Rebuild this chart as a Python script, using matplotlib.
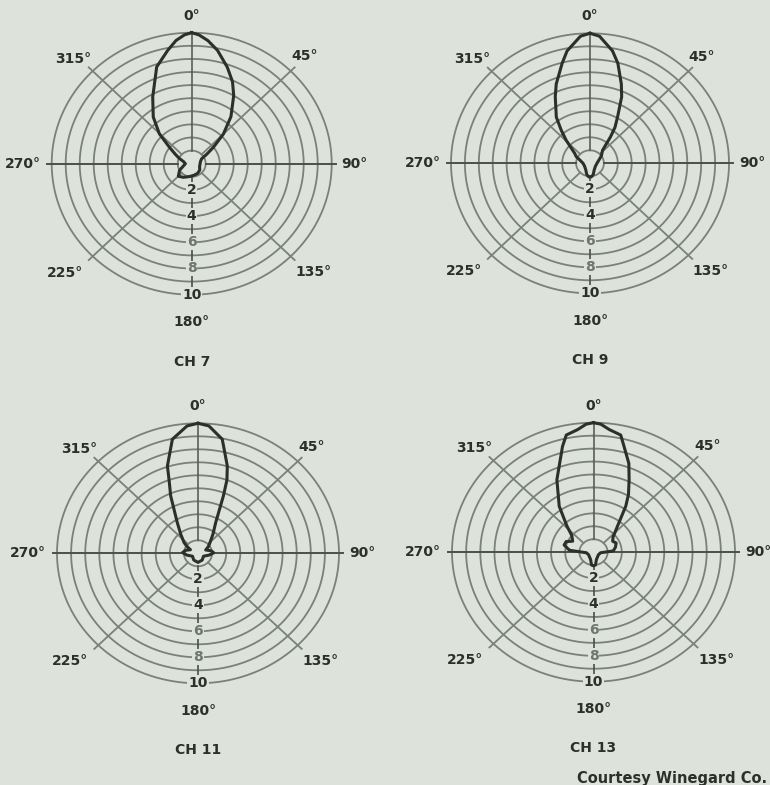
import numpy as np
import matplotlib.pyplot as plt

BG = '#dde2da'
GRID = '#7a8178'
INK = '#2b302b'

W, H = 770, 785
R_LIM = 10.6

channels = ['CH 7', 'CH 9', 'CH 11', 'CH 13']

# pattern traces: bearing in degrees (clockwise from 0°) and relative response
ch7_deg = [0, 3, 7, 12, 19, 25, 30, 38, 45, 51, 56, 62, 75, 90, 110, 130, 150, 170, 190,
           210, 225, 240, 255, 270, 285, 295, 302, 308.4, 314.7, 322.4, 331.3, 341.3,
           348.8, 353.2, 357, 360]
ch7_r = [10, 9.85, 9.47, 8.85, 7.8, 6.9, 6.0, 4.55, 3.2, 2.0, 1.3, 0.8, 0.65, 0.6, 0.6,
         0.75, 0.85, 0.9, 1.0, 1.2, 1.35, 1.0, 0.6, 0.45, 0.6, 1.0, 1.4, 2.04, 3.25, 4.5,
         5.8, 7.8, 8.82, 9.47, 9.85, 10]

ch9_deg = [0, 4, 10.6, 14.6, 20.3, 24, 29, 33, 36, 42, 55, 65, 90, 120, 150, 165, 175,
           185, 195, 210, 240, 270, 290, 297, 305, 316, 321, 325.7, 334, 338.3, 345.4,
           349.2, 356, 360]
ch9_r = [10, 9.8, 8.8, 7.95, 6.5, 5.6, 4.1, 3.3, 2.5, 1.35, 1.0, 0.75, 0.5, 0.45, 0.6,
         0.9, 1.05, 1.05, 0.9, 0.6, 0.45, 0.5, 0.8, 1.1, 1.35, 2.47, 3.3, 4.3, 5.7, 6.57,
         7.95, 8.8, 9.8, 10]

ch11_deg = [0, 4.5, 11.1, 17.2, 20, 22.2, 28, 36, 46, 55, 65, 78, 88, 100, 120, 150, 180,
            210, 240, 260, 273, 285, 297, 305, 310, 320, 328.1, 336.3, 340, 342.1, 348.3,
            355.5, 360]
ch11_r = [10, 9.83, 8.94, 7.03, 6.0, 4.76, 2.67, 1.8, 1.18, 0.9, 0.6, 0.95, 1.12, 0.8,
          0.45, 0.6, 0.7, 0.6, 0.45, 0.8, 1.1, 0.9, 0.6, 1.0, 1.29, 1.9, 2.78, 4.82, 6.0,
          7.06, 8.96, 9.83, 10]

ch13_deg = [0, 3, 6.8, 12, 14.8, 20, 24.2, 29, 32.7, 40.2, 50, 58, 66, 76, 86, 95, 120,
            160, 172, 180, 188, 200, 240, 265, 275, 285, 293, 300, 310, 317, 325.7, 335.2,
            345, 348, 353.2, 357, 360]
ch13_r = [10, 9.9, 9.53, 9.25, 8.45, 7.3, 6.14, 5.1, 4.22, 2.62, 1.8, 1.6, 1.75, 1.6, 1.4,
          0.5, 0.4, 0.6, 1.0, 1.05, 1.0, 0.6, 0.4, 0.5, 1.7, 2.15, 2.1, 1.7, 2.0, 2.75,
          4.3, 6.17, 8.46, 9.25, 9.53, 9.9, 10]

patterns = [(ch7_deg, ch7_r), (ch9_deg, ch9_r), (ch11_deg, ch11_r), (ch13_deg, ch13_r)]

# chart centres and outer-ring radii (x, y from top, rx, ry) in pixels
panels = [(191.7, 163.7, 140, 131), (590, 163.3, 139, 130),
          (198, 553.3, 141, 130), (593.5, 552.2, 141.5, 129.5)]

rings = [1, 2, 3, 4, 5, 6, 7, 8, 9, 10]
scale_labels = ['2', '4', '6', '8', '10']
scale_vals = [2, 4, 6, 8, 10]
bearing_labels = [('0°', 0, 11.3), ('45°', 44.5, 11.5), ('90°', 90, 11.65),
                  ('135°', 133.7, 12.0), ('180°', 180, 12.1), ('225°', 227.5, 12.3),
                  ('270°', 270, 12.05), ('315°', 313.5, 11.65)]

fig = plt.figure(figsize=(W / 100, H / 100), dpi=100, facecolor=BG)

for name, (deg, r), (cx, cy, rx, ry) in zip(channels, patterns, panels):
    hw = rx * R_LIM / 10
    hh = ry * R_LIM / 10
    ax = fig.add_axes([(cx - hw) / W, (H - cy - hh) / H, 2 * hw / W, 2 * hh / H],
                      projection='polar')
    ax.set_aspect('auto')
    ax.set_theta_zero_location('N')
    ax.set_theta_direction(-1)
    ax.set_ylim(0, R_LIM)
    ax.grid(False)
    ax.set_xticks([])
    ax.set_yticks([])
    ax.spines['polar'].set_visible(False)
    ax.patch.set_alpha(0)

    t = np.linspace(0, 2 * np.pi, 361)
    for rr in rings:
        ax.plot(t, np.full_like(t, rr), color=GRID, lw=1.3)

    # spokes
    for a in [45, 135, 225, 315]:
        ax.plot([np.radians(a)] * 2, [1, 10.4], color=GRID, lw=1.3)
    for a in [90, 270]:
        ax.plot([np.radians(a)] * 2, [1, 10.3], color='#4a5049', lw=1.4)
    ax.plot([0, 0], [1, 10], color='#5a6059', lw=1.2)
    ax.plot([np.pi, np.pi], [1, 10], color='#4a5049', lw=1.2)

    for lab, v in zip(scale_labels, scale_vals):
        col = '#6f766e' if v in (6, 8) else INK
        ax.text(np.pi, v, lab, ha='center', va='center', fontsize=10, fontweight='bold',
                color=col, bbox=dict(facecolor=BG, edgecolor='none', pad=0.6))

    for lab, a, rr in bearing_labels:
        ax.text(np.radians(a), rr, lab, ha='center', va='center', fontsize=10,
                fontweight='bold', color=INK)

    ax.text(np.pi, 15.1, name, ha='center', va='center', fontsize=10,
            fontweight='bold', color=INK)

    ax.plot(np.radians(deg), r, color=INK, lw=2.2, solid_joinstyle='round')

fig.text(767 / W, 1 - 778 / H, 'Courtesy Winegard Co.', ha='right', va='center',
         fontsize=10.5, fontweight='bold', color=INK)

fig.savefig('out.png', dpi=100, facecolor=BG)
